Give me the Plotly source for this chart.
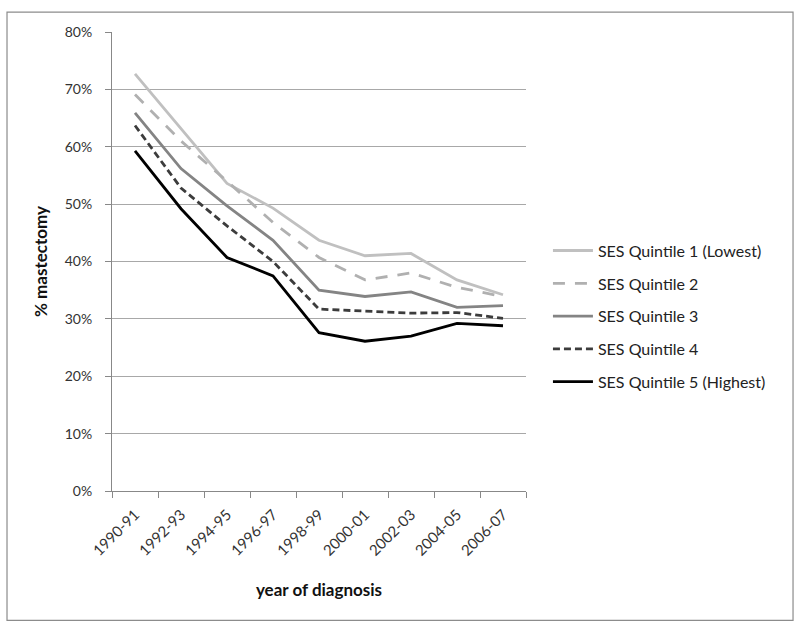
import plotly.graph_objects as go

years = ["1990-91", "1992-93", "1994-95", "1996-97", "1998-99",
         "2000-01", "2002-03", "2004-05", "2006-07"]

q1 = [0.727, 0.632, 0.536, 0.493, 0.437, 0.410, 0.414, 0.368, 0.342]
q2 = [0.691, 0.610, 0.540, 0.468, 0.407, 0.368, 0.380, 0.355, 0.339]
q3 = [0.659, 0.562, 0.497, 0.437, 0.350, 0.339, 0.347, 0.320, 0.323]
q4 = [0.637, 0.528, 0.462, 0.400, 0.317, 0.313, 0.310, 0.311, 0.301]
q5 = [0.593, 0.492, 0.407, 0.375, 0.276, 0.261, 0.270, 0.292, 0.288]

series = [
    ("SES Quintile 1 (Lowest)", q1, "#c0c0c0", "solid"),
    ("SES Quintile 2", q2, "#b0b0b0", "12px,10px"),
    ("SES Quintile 3", q3, "#848484", "solid"),
    ("SES Quintile 4", q4, "#3c3c3c", "7px,4px"),
    ("SES Quintile 5 (Highest)", q5, "#000000", "solid"),
]

font = "Lato, 'Open Sans', sans-serif"

fig = go.Figure()
for i, (name, vals, color, dash) in enumerate(series):
    fig.add_trace(go.Scatter(
        x=years, y=vals, mode="lines", name=name,
        legendgroup=f"g{i}",
        line=dict(color=color, width=2.8, dash=dash),
    ))

fig.update_layout(
    width=800, height=631,
    margin=dict(l=112, r=274, t=32, b=139.5, autoexpand=False),
    paper_bgcolor="white", plot_bgcolor="white",
    font=dict(family=font, size=15, color="#333333"),
    showlegend=True,
    legend=dict(
        x=1.053, y=0.381, xanchor="left", yanchor="middle",
        traceorder="grouped", tracegroupgap=9,
        font=dict(family=font, size=16, color="#222222"),
        itemwidth=40,
    ),
    xaxis=dict(
        type="category", range=[-0.5, 8.5], automargin=False,
        tickson="boundaries", ticks="outside", ticklen=6,
        tickcolor="#888888", showline=True, linecolor="#888888",
        showgrid=False, tickangle=-45, ticklabelstandoff=8,
        tickfont=dict(family=font, size=15, color="#333333"),
        title=dict(text="<b>year of diagnosis</b>", standoff=26,
                   font=dict(family=font, size=17, color="#111111")),
    ),
    yaxis=dict(
        range=[0, 0.8], dtick=0.1, tickformat=".0%", automargin=False,
        ticks="outside", ticklen=6, tickcolor="#888888",
        showline=True, linecolor="#888888",
        showgrid=True, gridcolor="#a8a8a8", gridwidth=1,
        zeroline=False, ticklabelstandoff=10,
        tickfont=dict(family=font, size=14, color="#333333"),
        title=dict(text="<b>% mastectomy</b>", standoff=12,
                   font=dict(family=font, size=17, color="#111111")),
    ),
    shapes=[dict(
        type="rect", xref="paper", yref="paper",
        x0=-0.2536, x1=1.645, y0=-0.2818, y1=1.0435,
        line=dict(color="#8c8c8c", width=1.2), fillcolor="rgba(0,0,0,0)",
        layer="below",
    )],
)

fig.write_html("out.html", config={"displayModeBar": False},
               post_script="document.body.style.margin='0';")
